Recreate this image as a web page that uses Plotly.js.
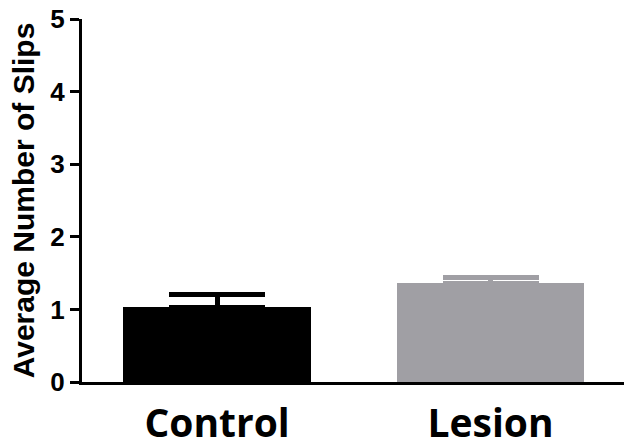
<!DOCTYPE html>
<html>
<head>
<meta charset="utf-8">
<script src="https://cdn.plot.ly/plotly-3.0.1.min.js"></script>
<style>
  html, body { margin: 0; padding: 0; background: #fff; }
  #chart { width: 625px; height: 447px; }
</style>
</head>
<body>
<div id="chart"></div>
<script>
// Group means and upper error (SEM) for slips per animal
const groups = ["Control", "Lesion"];
const meanSlips = [1.03, 1.36];
const semSlips = [0.17, 0.075];
const barColors = ["#000000", "#a09fa4"];
const yTicks = [0, 1, 2, 3, 4, 5];

const traces = groups.map((g, i) => ({
  type: "bar",
  x: [i],
  y: [meanSlips[i]],
  width: 0.687,
  marker: { color: barColors[i], line: { width: 0 } },
  error_y: {
    type: "data",
    symmetric: false,
    array: [semSlips[i]],
    arrayminus: [0],
    color: barColors[i],
    thickness: 5,
    width: 48
  },
  hoverinfo: "skip",
  showlegend: false
}));

const layout = {
  width: 625,
  height: 447,
  margin: { l: 82, r: 1, t: 19, b: 65, pad: 0 },
  paper_bgcolor: "#ffffff",
  plot_bgcolor: "#ffffff",
  bargap: 0,
  xaxis: {
    range: [-0.494, 1.488],
    tickmode: "array",
    tickvals: groups.map((_, i) => i),
    ticktext: groups,
    showline: true,
    linecolor: "#000",
    linewidth: 3,
    showgrid: false,
    zeroline: false,
    ticks: "outside",
    ticklen: 5,
    tickcolor: "rgba(0,0,0,0)",
    tickfont: { family: "Open Sans", size: 39, color: "#000", weight: "bold" }
  },
  yaxis: {
    range: [0, 5],
    tickmode: "array",
    tickvals: yTicks,
    ticktext: yTicks.map(String),
    showline: true,
    linecolor: "#000",
    linewidth: 3,
    showgrid: false,
    zeroline: false,
    ticks: "outside",
    ticklen: 9,
    tickwidth: 3,
    tickcolor: "#000",
    tickfont: { family: "Liberation Sans", size: 26, color: "#000", weight: "bold" },
    title: {
      text: "Average Number of Slips",
      font: { family: "Liberation Sans", size: 30, color: "#000", weight: "bold" },
      standoff: 7
    }
  }
};

Plotly.newPlot("chart", traces, layout, { displayModeBar: false, staticPlot: true });
</script>
</body>
</html>
